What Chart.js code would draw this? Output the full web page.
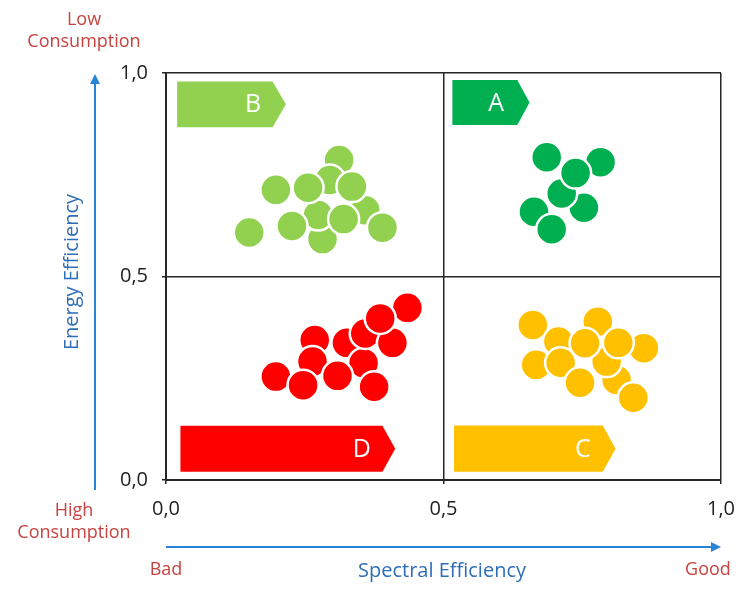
<!DOCTYPE html>
<html>
<head>
<meta charset="utf-8">
<script src="https://cdn.jsdelivr.net/npm/chart.js@4"></script>
<style>
  html, body { margin: 0; padding: 0; background: #fff; }
  #wrap { width: 750px; height: 593px; }
</style>
</head>
<body>
<div id="wrap"><canvas id="chart" width="750" height="593"></canvas></div>
<script>
// Quadrant points (spectral efficiency x, energy efficiency y), drawing order kept
const xA = [0.783, 0.753, 0.713, 0.738, 0.686, 0.663, 0.695];
const yA = [0.781, 0.669, 0.704, 0.754, 0.793, 0.659, 0.616];

const xB = [0.312, 0.295, 0.282, 0.359, 0.274, 0.198, 0.256, 0.335, 0.150, 0.227, 0.320, 0.390];
const yB = [0.786, 0.737, 0.592, 0.663, 0.651, 0.713, 0.718, 0.721, 0.608, 0.624, 0.641, 0.620];

const xC = [0.661, 0.778, 0.707, 0.861, 0.667, 0.812, 0.794, 0.711, 0.746, 0.755, 0.815, 0.842];
const yC = [0.381, 0.389, 0.340, 0.324, 0.283, 0.246, 0.291, 0.288, 0.239, 0.336, 0.337, 0.202];

const xD = [0.268, 0.326, 0.356, 0.359, 0.408, 0.435, 0.386, 0.264, 0.198, 0.247, 0.309, 0.375];
const yD = [0.344, 0.337, 0.287, 0.360, 0.337, 0.423, 0.397, 0.291, 0.254, 0.233, 0.256, 0.229];

// Energy label banners (in axis units)
const bannerLabels = ['A', 'B', 'C', 'D'];
const bannerStart  = [0.516, 0.020, 0.519, 0.026];
const bannerEnd    = [0.633, 0.192, 0.787, 0.390];
const bannerTip    = [0.655, 0.216, 0.810, 0.413];
const bannerTop    = [0.983, 0.979, 0.134, 0.133];
const bannerBottom = [0.872, 0.867, 0.020, 0.020];
const bannerTextX  = [0.595, 0.157, 0.751, 0.353];

const axisTicks = [0, 0.5, 1];

const colors = { A: '#00B050', B: '#92D050', C: '#FFC000', D: '#FF0000' };
const FONT = '"Open Sans", "Noto Sans", sans-serif';
const RED = '#C8423F';
const BLUE = '#2E6DB8';
const ARROW = '#2A84D6';

function pts(xs, ys) {
    return xs.map((x, i) => ({ x: x, y: ys[i] }));
}

function fmt(v) {
    return v.toFixed(1).replace('.', ',');
}

// Banners, arrows and corner texts
const decor = {
    id: 'decor',
    beforeDatasetsDraw(chart) {
        const ctx = chart.ctx;
        const sx = chart.scales.x, sy = chart.scales.y;
        ctx.save();
        bannerLabels.forEach((lab, i) => {
            const x0 = sx.getPixelForValue(bannerStart[i]);
            const x1 = sx.getPixelForValue(bannerEnd[i]);
            const xt = sx.getPixelForValue(bannerTip[i]);
            const yt = sy.getPixelForValue(bannerTop[i]);
            const yb = sy.getPixelForValue(bannerBottom[i]);
            ctx.fillStyle = colors[lab];
            ctx.beginPath();
            ctx.moveTo(x0, yt);
            ctx.lineTo(x1, yt);
            ctx.lineTo(xt, (yt + yb) / 2);
            ctx.lineTo(x1, yb);
            ctx.lineTo(x0, yb);
            ctx.closePath();
            ctx.fill();
            ctx.fillStyle = '#fff';
            ctx.font = '25px ' + FONT;
            ctx.textAlign = 'center';
            ctx.textBaseline = 'middle';
            ctx.fillText(lab, sx.getPixelForValue(bannerTextX[i]), (yt + yb) / 2 + 1);
        });
        ctx.restore();
    },
    afterDraw(chart) {
        const ctx = chart.ctx;
        const a = chart.chartArea;
        ctx.save();

        // vertical arrow
        const vx = 95;
        ctx.strokeStyle = ARROW;
        ctx.fillStyle = ARROW;
        ctx.lineWidth = 2;
        ctx.beginPath();
        ctx.moveTo(vx, a.bottom + 10);
        ctx.lineTo(vx, a.top + 8);
        ctx.stroke();
        ctx.beginPath();
        ctx.moveTo(vx, a.top + 1);
        ctx.lineTo(vx - 5, a.top + 11);
        ctx.lineTo(vx + 5, a.top + 11);
        ctx.closePath();
        ctx.fill();

        // horizontal arrow
        const hy = a.bottom + 67;
        ctx.beginPath();
        ctx.moveTo(a.left, hy);
        ctx.lineTo(a.right - 8, hy);
        ctx.stroke();
        ctx.beginPath();
        ctx.moveTo(a.right, hy);
        ctx.lineTo(a.right - 10, hy - 5);
        ctx.lineTo(a.right - 10, hy + 5);
        ctx.closePath();
        ctx.fill();

        ctx.textAlign = 'center';
        ctx.textBaseline = 'middle';

        ctx.fillStyle = RED;
        ctx.font = '18px ' + FONT;
        ctx.fillText('Low', 84, 20);
        ctx.fillText('Consumption', 84, 42);
        ctx.fillText('High', 74, 511);
        ctx.fillText('Consumption', 74, 533);
        ctx.fillText('Bad', a.left, 570);
        ctx.fillText('Good', a.right - 13, 570);

        ctx.fillStyle = BLUE;
        ctx.font = '20px ' + FONT;
        ctx.fillText('Spectral Efficiency', 442, 571);
        ctx.translate(72, 272);
        ctx.rotate(-Math.PI / 2);
        ctx.fillText('Energy Efficiency', 0, 0);

        ctx.restore();
    }
};

const gridStyle = {
    color: '#262626',
    lineWidth: 1.5,
    tickLength: 4,
    drawTicks: true
};

new Chart(document.getElementById('chart'), {
    type: 'scatter',
    data: {
        datasets: [
            { label: 'A', data: pts(xA, yA), backgroundColor: colors.A },
            { label: 'B', data: pts(xB, yB), backgroundColor: colors.B },
            { label: 'C', data: pts(xC, yC), backgroundColor: colors.C },
            { label: 'D', data: pts(xD, yD), backgroundColor: colors.D }
        ].map(d => Object.assign(d, {
            pointRadius: 15.5,
            pointHoverRadius: 15.5,
            borderColor: '#fff',
            borderWidth: 2.5
        }))
    },
    options: {
        responsive: false,
        animation: false,
        layout: { padding: { left: 0, top: 73, right: 29, bottom: 0 } },
        plugins: {
            legend: { display: false },
            tooltip: { enabled: false }
        },
        scales: {
            x: {
                type: 'linear',
                min: 0,
                max: 1,
                afterBuildTicks: s => { s.ticks = axisTicks.map(v => ({ value: v })); },
                afterFit: s => { s.height = 113; },
                grid: gridStyle,
                border: { display: true, color: '#262626', width: 2 },
                ticks: {
                    callback: v => fmt(v),
                    padding: 13,
                    color: '#222',
                    font: { family: FONT, size: 20 },
                    maxRotation: 0
                }
            },
            y: {
                type: 'linear',
                min: 0,
                max: 1,
                afterBuildTicks: s => { s.ticks = axisTicks.map(v => ({ value: v })); },
                afterFit: s => { s.width = 166; },
                grid: gridStyle,
                border: { display: true, color: '#262626', width: 2 },
                ticks: {
                    callback: v => fmt(v),
                    padding: 14,
                    color: '#222',
                    font: { family: FONT, size: 20 }
                }
            }
        }
    },
    plugins: [decor]
});
</script>
</body>
</html>
